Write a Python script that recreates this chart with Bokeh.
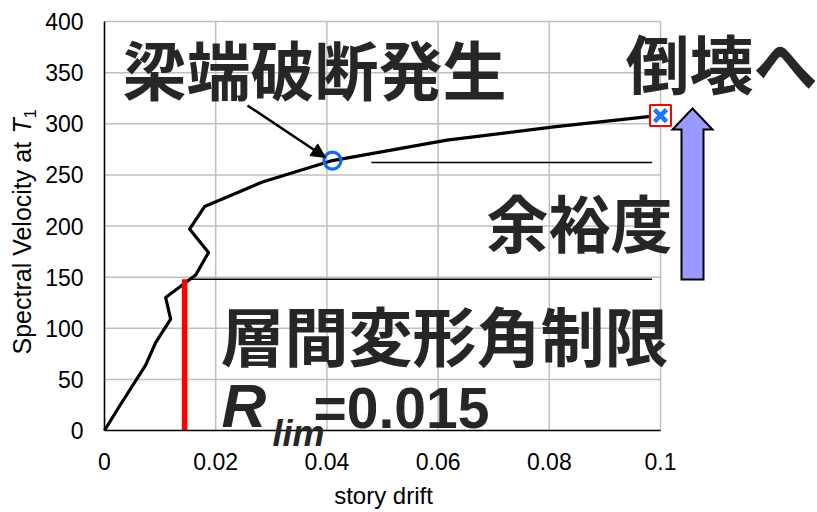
import math
from bokeh.plotting import figure
from bokeh.models import Range1d, FixedTicker, Label, Arrow, NormalHead
from bokeh.embed import file_html
from bokeh.resources import INLINE

# ---------------- data ----------------
drift = [0, 0.0026, 0.0074, 0.0092, 0.0119, 0.0110, 0.0164, 0.0187, 0.0153,
         0.0180, 0.0284, 0.0410, 0.0616, 0.0808, 0.0995]
sv = [0, 23, 64, 86, 109, 130, 152, 174, 197, 219, 243, 264, 284, 297, 308]

x_ticks = [0, 0.02, 0.04, 0.06, 0.08, 0.1]
x_tick_labels = ["0", "0.02", "0.04", "0.06", "0.08", "0.1"]
y_ticks = [0, 50, 100, 150, 200, 250, 300, 350, 400]
y_tick_labels = ["0", "50", "100", "150", "200", "250", "300", "350", "400"]

break_drift = [0.041]      # 梁端破断発生
break_sv = [264]
collapse_drift = [0.1]     # 倒壊
collapse_sv = [308]
rlim_drift = [0.0144]      # red limit line
rlim_sv = [148]
limit_line_drift = [0.015, 0.0985]
limit_line_sv = [148, 148]
margin_line_drift = [0.048, 0.0985]
margin_line_sv = [262, 262]

# ---------------- layout helpers (canvas px -> data) ----------------
W, H = 817, 512
PX_X0, PX_PER_X = 104, 5560.0     # canvas px of drift 0, px per unit drift
PX_Y0, PX_PER_Y = 430, 1.0225     # canvas px of Sv 0, px per unit Sv


def dx(px):
    return (px - PX_X0) / PX_PER_X


def dy(py):
    return (PX_Y0 - py) / PX_PER_Y


p = figure(width=W, height=H, output_backend="svg", toolbar_location=None,
           x_range=Range1d(dx(0), dx(W)), y_range=Range1d(dy(H), dy(0)),
           min_border=0, min_border_left=0, min_border_right=0,
           min_border_top=0, min_border_bottom=0)
p.outline_line_color = None
p.background_fill_color = "white"
p.border_fill_color = "white"
p.xgrid.visible = False
p.ygrid.visible = False

TICK_FONT = "Liberation Sans"

xa = p.xaxis[0]
xa.ticker = FixedTicker(ticks=x_ticks)
xa.major_label_overrides = dict(zip(x_ticks, x_tick_labels))
xa.bounds = (x_ticks[0], x_ticks[-1])
xa.fixed_location = y_ticks[0]
ya = p.yaxis[0]
ya.ticker = FixedTicker(ticks=y_ticks)
ya.major_label_overrides = dict(zip(y_ticks, y_tick_labels))
ya.bounds = (y_ticks[0], y_ticks[-1])
ya.fixed_location = x_ticks[0]
for ax in (xa, ya):
    ax.axis_line_color = "black"
    ax.axis_line_width = 1.6
    ax.major_tick_line_color = None
    ax.minor_tick_line_color = None
    ax.major_tick_out = 0
    ax.major_tick_in = 0
    ax.major_label_text_font = TICK_FONT
    ax.major_label_text_font_size = "23px"
    ax.major_label_text_color = "black"
xa.major_label_standoff = 22
ya.major_label_standoff = 21

# grid lines (bounded to the data area)
GRID = "#BFBFBF"
p.segment(x0=x_ticks[1:], y0=[y_ticks[0]] * (len(x_ticks) - 1),
          x1=x_ticks[1:], y1=[y_ticks[-1]] * (len(x_ticks) - 1),
          line_color=GRID, line_width=1.5, level="underlay")
p.segment(x0=[x_ticks[0]] * (len(y_ticks) - 1), y0=y_ticks[1:],
          x1=[x_ticks[-1]] * (len(y_ticks) - 1), y1=y_ticks[1:],
          line_color=GRID, line_width=1.5, level="underlay")

# reference lines
p.line(limit_line_drift, limit_line_sv, line_color="black", line_width=1.5)
p.line(margin_line_drift, margin_line_sv, line_color="black", line_width=1.5)

# IDA curve
p.line(drift, sv, line_color="black", line_width=3.2, line_join="round")

# red limit
p.segment(x0=rlim_drift, y0=[0], x1=rlim_drift, y1=rlim_sv,
          line_color="#FF0000", line_width=5.5)

# markers
p.scatter(break_drift, break_sv, marker="circle", size=17, fill_color=None,
          line_color="#0A6CFF", line_width=3.2)
p.scatter(collapse_drift, collapse_sv, marker="square", size=21,
          fill_color="white", line_color="#FF0000", line_width=2)
p.scatter(collapse_drift, collapse_sv, marker="x", size=17,
          line_color="#1A75FF", line_width=4.5)

# pointer arrow to the break point
p.add_layout(Arrow(end=NormalHead(size=14, fill_color="black", line_color="black"),
                   x_start=dx(247), y_start=dy(105), x_end=dx(325), y_end=dy(157),
                   line_color="black", line_width=2.5))

# block arrow (余裕度)
cx, tip, head_base, bottom, hw, sw = 692, 108, 129, 279, 20, 11
p.patch([dx(cx), dx(cx + hw), dx(cx + sw), dx(cx + sw), dx(cx - sw), dx(cx - sw), dx(cx - hw)],
        [dy(tip), dy(head_base), dy(head_base), dy(bottom), dy(bottom), dy(head_base), dy(head_base)],
        fill_color="#9999FF", line_color="black", line_width=2, line_join="miter")


def text(txt, px, py, size, font=TICK_FONT, style="normal", color="black",
         align="left", angle=0.0):
    p.add_layout(Label(x=dx(px), y=dy(py), text=txt, text_align=align,
                       text_baseline="middle", text_font=font, text_font_style=style,
                       text_font_size=f"{size}px", text_color=color, angle=angle))


# axis titles (middle-anchored; ~0.35em above the baseline)
text("story drift", 383, 495, 24, align="center")
text("Spectral Velocity at", 21, 354, 25, angle=math.pi / 2)
text("T", 21, 133, 25, style="italic", angle=math.pi / 2)
text("1", 29, 118, 17, angle=math.pi / 2)

# Japanese annotations
JP = "Noto Sans CJK JP"
TXT = "#262626"
text("梁端破断発生", 122, 66, 64, font=JP, style="bold", color=TXT)
text("倒壊へ", 625, 60, 64, font=JP, style="bold", color=TXT)
text("余裕度", 486, 220, 62, font=JP, style="bold", color=TXT)
text("層間変形角制限", 220, 332, 64, font=JP, style="bold", color=TXT)

# R_lim = 0.015
text("R", 221, 405, 62, style="bold italic", color=TXT)
text("lim", 272, 433, 36, style="bold italic", color=TXT)
text("=0.015", 313, 407, 57, style="bold", color=TXT)

open("out.html", "w").write(file_html(p, INLINE))
